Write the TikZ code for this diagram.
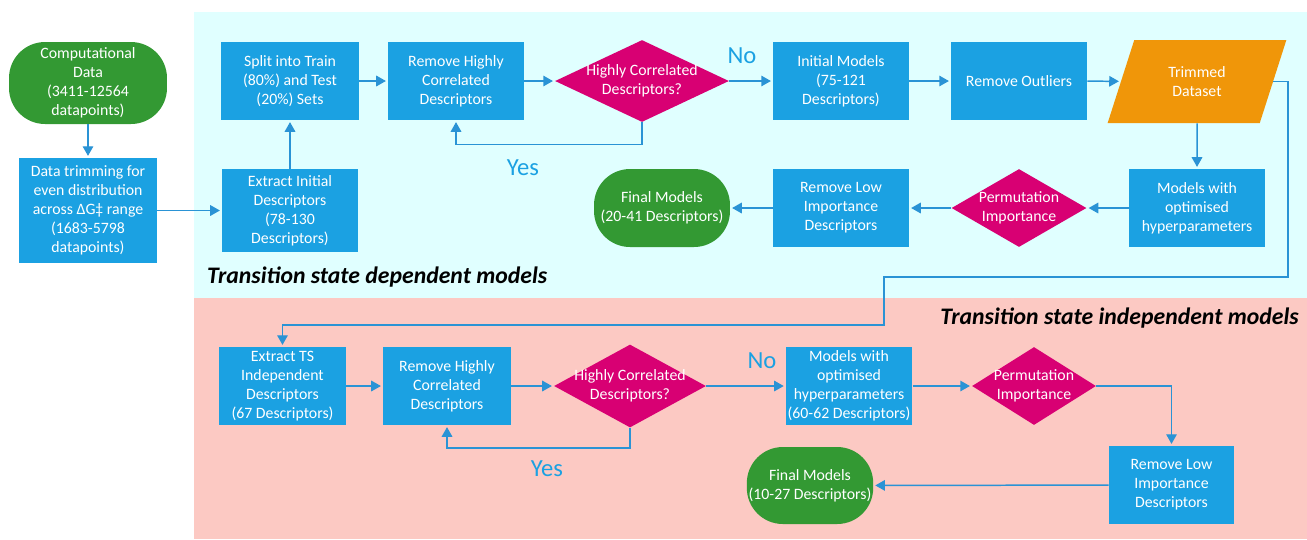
\documentclass[tikz,border=0pt]{standalone}
\usepackage{fontspec}
\setmainfont{Carlito}
\usetikzlibrary{shapes.geometric,arrows.meta}
\definecolor{boxblue}{HTML}{1BA1E2}
\definecolor{termgreen}{HTML}{339933}
\definecolor{decmag}{HTML}{D80073}
\definecolor{dataorange}{HTML}{F09609}
\definecolor{bgcyan}{HTML}{E0FFFF}
\definecolor{bgpink}{HTML}{FCC9C3}
\definecolor{flowblue}{HTML}{2A93D5}
\newcommand{\boxfont}{\fontsize{9}{10.8}\selectfont}
\newcommand{\dectext}[2]{\makebox[0pt]{\begin{tabular}{@{}c@{}}#1\\#2\end{tabular}}}
\tikzset{
  stepbox/.style={rectangle, fill=boxblue, text=white, align=center, font=\boxfont, inner sep=1pt},
  endbox/.style={rectangle, rounded corners=0.72cm, fill=termgreen, text=white, align=center, font=\boxfont, inner sep=1pt},
  decide/.style={diamond, fill=decmag, text=white, font=\boxfont, inner sep=0pt},
  dataio/.style={trapezium, trapezium left angle=68, trapezium right angle=112, trapezium stretches=true, fill=dataorange, text=white, align=center, font=\boxfont, inner sep=0pt},
  flow/.style={draw=flowblue, line width=0.85pt, -{Triangle[length=5.5pt,width=6pt]}, shorten >=1pt},
  branch/.style={text=boxblue, font=\fontsize{14}{16}\selectfont},
  heading/.style={font=\fontsize{13.5}{16}\selectfont\bfseries\itshape}
}
\begin{document}
\begin{tikzpicture}[x=0.02cm, y=-0.02cm]
  \useasboundingbox (0,0) rectangle (1307,539);
  %% backgrounds
  \fill[bgcyan] (194,12) rectangle (1307,298);
  \fill[bgpink] (194,298) rectangle (1307,539);
  \node[heading, anchor=west] (hdep) at (201,277) {Transition state dependent models};
  \node[heading, anchor=east] (hind) at (1305,318) {Transition state independent models};

  %% data preparation
  \node[endbox, minimum width=3.16cm, minimum height=1.64cm] (comp) at (88,83) {Computational\\Data\\(3411-12564\\datapoints)};
  \node[stepbox, minimum width=2.76cm, minimum height=2.1cm] (trim) at (88,210.5) {Data trimming for\\even distribution\\across ΔG‡ range\\(1683-5798\\datapoints)};

  %% TS dependent, top row
  \node[stepbox, minimum width=2.76cm, minimum height=1.56cm] (split) at (290,81) {Split into Train\\(80\%) and Test\\(20\%) Sets};
  \node[stepbox, minimum width=2.72cm, minimum height=1.66cm] (ext1) at (290,210.5) {Extract Initial\\Descriptors\\(78-130\\Descriptors)};
  \node[stepbox, minimum width=2.72cm, minimum height=1.56cm] (rhc1) at (456,81) {Remove Highly\\Correlated\\Descriptors};
  \node[decide, minimum width=3.48cm, minimum height=1.64cm] (d1) at (642,81) {\dectext{Highly Correlated}{Descriptors?}};
  \node[stepbox, minimum width=2.72cm, minimum height=1.56cm] (init) at (841,81) {Initial Models\\(75-121\\Descriptors)};
  \node[stepbox, minimum width=2.72cm, minimum height=1.56cm] (outl) at (1019,81) {Remove Outliers};
  \node[dataio, minimum width=3.58cm, minimum height=1.66cm] (trimd) at (1197,81.5) {Trimmed\\Dataset};

  %% TS dependent, bottom row
  \node[stepbox, minimum width=2.72cm, minimum height=1.56cm] (opt1) at (1197,208) {Models with\\optimised\\hyperparameters};
  \node[decide, minimum width=2.7cm, minimum height=1.56cm] (perm1) at (1019,208) {\dectext{Permutation}{Importance}};
  \node[stepbox, minimum width=2.72cm, minimum height=1.56cm] (rlow1) at (841,208) {Remove Low\\Importance\\Descriptors};
  \node[endbox, minimum width=2.72cm, minimum height=1.56cm] (fin1) at (662,208) {Final Models\\(20-41 Descriptors)};

  %% TS independent
  \node[stepbox, minimum width=2.54cm, minimum height=1.56cm] (exts) at (282.5,386) {Extract TS\\Independent\\Descriptors\\(67 Descriptors)};
  \node[stepbox, minimum width=2.56cm, minimum height=1.56cm] (rhc2) at (447,386) {Remove Highly\\Correlated\\Descriptors};
  \node[decide, minimum width=3.04cm, minimum height=1.66cm] (d2) at (630,386) {\dectext{Highly Correlated}{Descriptors?}};
  \node[stepbox, minimum width=2.52cm, minimum height=1.56cm] (opt2) at (849,386) {Models with\\optimised\\hyperparameters\\(60-62 Descriptors)};
  \node[decide, minimum width=2.48cm, minimum height=1.56cm] (perm2) at (1034,386) {\dectext{Permutation}{Importance}};
  \node[stepbox, minimum width=2.5cm, minimum height=1.56cm] (rlow2) at (1171.5,485) {Remove Low\\Importance\\Descriptors};
  \node[endbox, minimum width=2.52cm, minimum height=1.54cm] (fin2) at (810,485.5) {Final Models\\(10-27 Descriptors)};

  %% connectors
  \draw[flow] (comp) -- (trim);
  \draw[flow] (trim) -- (ext1);
  \draw[flow] (ext1) -- (split);
  \draw[flow] (split) -- (rhc1);
  \draw[flow] (rhc1) -- (d1);
  \draw[flow] (d1) -- (init);
  \draw[flow] (d1.south) -- ++(0,22) -| (rhc1.south);
  \draw[flow] (init) -- (outl);
  \draw[flow] (outl) -- (trimd);
  \draw[flow] (trimd) -- (opt1);
  \draw[flow] (opt1) -- (perm1);
  \draw[flow] (perm1) -- (rlow1);
  \draw[flow] (rlow1) -- (fin1);

  \coordinate (turn1) at (1288,277);
  \coordinate (turn2) at (884,325);
  \draw[flow] (trimd.east) -| (turn1) -| (turn2) -| (exts.north);

  \draw[flow] (exts) -- (rhc2);
  \draw[flow] (rhc2) -- (d2);
  \draw[flow] (d2) -- (opt2);
  \draw[flow] (d2.south) -- ++(0,20) -| (rhc2.south);
  \draw[flow] (opt2) -- (perm2);
  \draw[flow] (perm2.east) -| (rlow2.north);
  \draw[flow] (rlow2) -- (fin2);

  %% branch labels
  \node[branch] (no1) at (742,56) {No};
  \node[branch] (yes1) at (523,168) {Yes};
  \node[branch] (no2) at (762,361) {No};
  \node[branch] (yes2) at (547,469) {Yes};
\end{tikzpicture}
\end{document}
